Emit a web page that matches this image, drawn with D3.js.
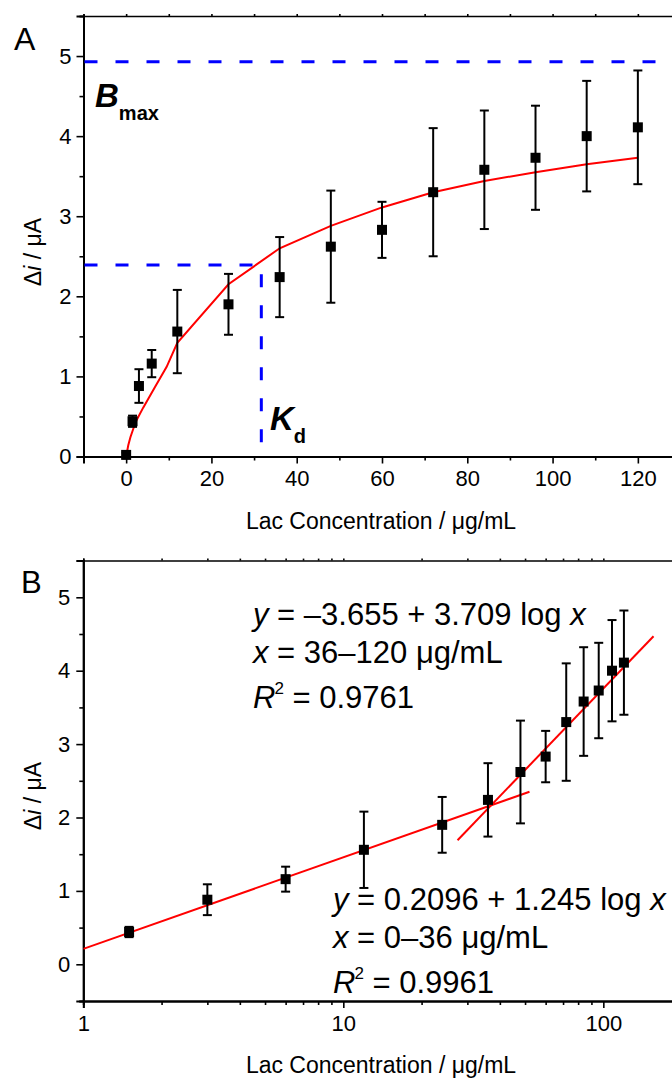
<!DOCTYPE html>
<html>
<head>
<meta charset="utf-8">
<script src="https://cdn.jsdelivr.net/npm/d3@7"></script>
<style>
  html, body { margin: 0; padding: 0; background: #fff; overflow: hidden; }
  svg text { font-family: "Liberation Sans", Arial, sans-serif; fill: #000; }
</style>
</head>
<body>
<script>
// ---------------- data ----------------
const conc = [0, 1.5, 3, 6, 12, 24, 36, 48, 60, 72, 84, 96, 108, 120];
const deltaI = [0.02, 0.44, 0.88, 1.16, 1.56, 1.90, 2.24, 2.62, 2.83, 3.30, 3.58, 3.73, 4.00, 4.11];
const errI = [0.03, 0.07, 0.21, 0.17, 0.52, 0.38, 0.50, 0.70, 0.35, 0.80, 0.74, 0.65, 0.69, 0.71];

// binding-curve fit (panel A)
const fitX = [0, 0.5, 1, 1.7, 2.5, 4, 6.8, 9.5, 12, 24, 36, 48, 60, 72, 84, 96, 108, 120];
const fitY = [0, 0.14, 0.24, 0.35, 0.46, 0.61, 0.87, 1.12, 1.42, 2.15, 2.60, 2.88, 3.11, 3.30, 3.44, 3.55, 3.65, 3.73];

const Bmax = 4.93;
const Kd = 31.7;
const KdY = 2.39;

// panel B linear fits (end points)
const fitLowX = [1, 52];
const fitLowY = [0.21, 2.35];
const fitHighX = [27.5, 156];
const fitHighY = [1.69, 4.47];

const xTicksA = [0, 20, 40, 60, 80, 100, 120];
const yTicks = [0, 1, 2, 3, 4, 5];
const xTicksB = [1, 10, 100];

const xTitle = "Lac Concentration / \u03BCg/mL";

// ---------------- setup ----------------
const W = 672, H = 1079;
const svg = d3.select("body").append("svg").attr("width", W).attr("height", H);

const FONT = 22;
const TFONT = 23;

function styleAxis(g, width) {
  g.select(".domain").attr("stroke", "#000").attr("stroke-width", width || 2);
  g.selectAll(".tick line").attr("stroke", "#000").attr("stroke-width", 1.6);
  g.selectAll(".tick text").style("font-size", FONT + "px").attr("fill", "#000");
}

// =============== PANEL A ===============
const A = { left: 83.5, right: 680.5, top: 16, bottom: 456.5 };
const xA = d3.scaleLinear().domain([-10, 130]).range([A.left, A.right]);
const yA = d3.scaleLinear().domain([0, 5.5]).range([A.bottom, A.top]);

const gA = svg.append("g");
svg.append("clipPath").attr("id", "clipA").append("rect")
  .attr("x", A.left).attr("y", A.top).attr("width", A.right - A.left).attr("height", A.bottom - A.top);

const topA = gA.append("g").attr("transform", `translate(0,${A.top})`)
  .call(d3.axisTop(xA).tickValues(d3.range(-10, 131, 10)).tickSize(2).tickFormat(""));
styleAxis(topA, 1.5);
const minorBA = gA.append("g").attr("transform", `translate(0,${A.bottom})`)
  .call(d3.axisBottom(xA).tickValues(d3.range(10, 131, 20)).tickSize(4).tickFormat(""));
styleAxis(minorBA);
const botA = gA.append("g").attr("transform", `translate(0,${A.bottom})`)
  .call(d3.axisBottom(xA).tickValues(xTicksA).tickSize(7).tickPadding(7).tickFormat(d3.format("d")));
styleAxis(botA);
botA.selectAll(".tick text").attr("dy", "0.71em");
const minorLA = gA.append("g").attr("transform", `translate(${A.left},0)`)
  .call(d3.axisLeft(yA).tickValues([0.5, 1.5, 2.5, 3.5, 4.5]).tickSize(4).tickFormat(""));
styleAxis(minorLA);
const leftA = gA.append("g").attr("transform", `translate(${A.left},0)`)
  .call(d3.axisLeft(yA).tickValues(yTicks).tickSize(7).tickPadding(5).tickFormat(d3.format("d")));
styleAxis(leftA);
gA.append("line").attr("x1", A.right).attr("x2", A.right).attr("y1", A.top).attr("y2", A.bottom)
  .attr("stroke", "#000").attr("stroke-width", 2);

const plotA = gA.append("g").attr("clip-path", "url(#clipA)");

plotA.append("line")
  .attr("x1", xA(-10)).attr("x2", xA(130)).attr("y1", yA(Bmax)).attr("y2", yA(Bmax))
  .attr("stroke", "#0000ff").attr("stroke-width", 3).attr("stroke-dasharray", "13,18").attr("stroke-dashoffset", -1);
plotA.append("path")
  .attr("d", d3.line()([[xA(-10), yA(KdY)], [xA(Kd), yA(KdY)], [xA(Kd), yA(0)]]))
  .attr("fill", "none").attr("stroke", "#0000ff").attr("stroke-width", 3).attr("stroke-dasharray", "13,18").attr("stroke-dashoffset", -1);

plotA.append("path")
  .datum(fitX.map((x, i) => [x, fitY[i]]))
  .attr("d", d3.line().x(d => xA(d[0])).y(d => yA(d[1])))
  .attr("fill", "none").attr("stroke", "#ff0000").attr("stroke-width", 2);

function drawPoints(g, xs, ys, es, xScale, yScale) {
  const pts = xs.map((x, i) => ({ x, y: ys[i], e: es[i] }));
  const eb = g.append("g").attr("stroke", "#000").attr("stroke-width", 2);
  pts.forEach(p => {
    const cx = xScale(p.x);
    eb.append("line").attr("x1", cx).attr("x2", cx).attr("y1", yScale(p.y - p.e)).attr("y2", yScale(p.y + p.e));
    eb.append("line").attr("x1", cx - 4.5).attr("x2", cx + 4.5).attr("y1", yScale(p.y + p.e)).attr("y2", yScale(p.y + p.e));
    eb.append("line").attr("x1", cx - 4.5).attr("x2", cx + 4.5).attr("y1", yScale(p.y - p.e)).attr("y2", yScale(p.y - p.e));
  });
  g.append("g").selectAll("rect").data(pts).join("rect")
    .attr("x", d => xScale(d.x) - 5).attr("y", d => yScale(d.y) - 5)
    .attr("width", 10).attr("height", 10).attr("fill", "#000");
}
drawPoints(gA.append("g"), conc, deltaI, errI, xA, yA);

svg.append("text").attr("x", 14).attr("y", 50).style("font-size", "32px").text("A");
const bm = svg.append("text").attr("x", 95).attr("y", 107);
bm.append("tspan").style("font-size", "33px").style("font-weight", "bold").style("font-style", "italic").text("B");
bm.append("tspan").attr("dy", 13).style("font-size", "20px").style("font-weight", "bold").text("max");
const kd = svg.append("text").attr("x", 270).attr("y", 430);
kd.append("tspan").style("font-size", "33px").style("font-weight", "bold").style("font-style", "italic").text("K");
kd.append("tspan").attr("dy", 13).style("font-size", "20px").style("font-weight", "bold").text("d");

function yTitle(cy) {
  const t = svg.append("text").attr("transform", `translate(41,${cy}) rotate(-90)`)
    .attr("text-anchor", "middle").style("font-size", TFONT + "px");
  t.append("tspan").text("\u0394");
  t.append("tspan").style("font-style", "italic").text("i");
  t.append("tspan").text(" / \u03BCA");
}
yTitle(252);
svg.append("text").attr("x", 381).attr("y", 529).attr("text-anchor", "middle")
  .style("font-size", TFONT + "px").text(xTitle);

// =============== PANEL B ===============
const B = { left: 83.3, right: 681.6, top: 560.6, bottom: 1001 };
const xB = d3.scaleLog().domain([1, 200]).range([B.left, B.right]);
const yB = d3.scaleLinear().domain([-0.5, 5.5]).range([B.bottom, B.top]);

const gB = svg.append("g");
svg.append("clipPath").attr("id", "clipB").append("rect")
  .attr("x", B.left).attr("y", B.top).attr("width", B.right - B.left).attr("height", B.bottom - B.top);

const minorLog = [2, 3, 4, 5, 6, 7, 8, 9, 20, 30, 40, 50, 60, 70, 80, 90];
const topB = gB.append("g").attr("transform", `translate(0,${B.top})`)
  .call(d3.axisTop(xB).tickValues(xTicksB.concat(minorLog)).tickSize(2).tickFormat(""));
styleAxis(topB, 1.5);
const minorBB = gB.append("g").attr("transform", `translate(0,${B.bottom})`)
  .call(d3.axisBottom(xB).tickValues(minorLog).tickSize(4).tickFormat(""));
styleAxis(minorBB);
const botB = gB.append("g").attr("transform", `translate(0,${B.bottom})`)
  .call(d3.axisBottom(xB).tickValues(xTicksB).tickSize(7).tickPadding(7).tickFormat(d3.format("d")));
styleAxis(botB);
botB.selectAll(".tick text").attr("dy", "0.71em");
const minorLB = gB.append("g").attr("transform", `translate(${B.left},0)`)
  .call(d3.axisLeft(yB).tickValues([-0.5, 0.5, 1.5, 2.5, 3.5, 4.5]).tickSize(4).tickFormat(""));
styleAxis(minorLB);
const leftB = gB.append("g").attr("transform", `translate(${B.left},0)`)
  .call(d3.axisLeft(yB).tickValues(yTicks).tickSize(7).tickPadding(6).tickFormat(d3.format("d")));
styleAxis(leftB);
gB.append("line").attr("x1", B.right).attr("x2", B.right).attr("y1", B.top).attr("y2", B.bottom)
  .attr("stroke", "#000").attr("stroke-width", 2);

const plotB = gB.append("g").attr("clip-path", "url(#clipB)");
const lineB = d3.line().x(d => xB(d[0])).y(d => yB(d[1]));
plotB.append("path").datum(fitLowX.map((x, i) => [x, fitLowY[i]])).attr("d", lineB)
  .attr("fill", "none").attr("stroke", "#ff0000").attr("stroke-width", 2);
plotB.append("path").datum(fitHighX.map((x, i) => [x, fitHighY[i]])).attr("d", lineB)
  .attr("fill", "none").attr("stroke", "#ff0000").attr("stroke-width", 2);

drawPoints(gB.append("g"), conc.slice(1), deltaI.slice(1), errI.slice(1), xB, yB);

svg.append("text").attr("x", 21).attr("y", 593).style("font-size", "31px").text("B");

function eqBlock(x, y0, eq, range, r2) {
  const ANN = 31;
  const t1 = svg.append("text").attr("x", x).attr("y", y0).style("font-size", ANN + "px");
  t1.append("tspan").style("font-style", "italic").text("y");
  t1.append("tspan").text(" = " + eq + " log ");
  t1.append("tspan").style("font-style", "italic").text("x");
  const t2 = svg.append("text").attr("x", x).attr("y", y0 + 38).style("font-size", ANN + "px");
  t2.append("tspan").style("font-style", "italic").text("x");
  t2.append("tspan").text(" = " + range);
  const t3 = svg.append("text").attr("x", x).attr("y", y0 + 83).style("font-size", ANN + "px");
  t3.append("tspan").style("font-style", "italic").text("R");
  t3.append("tspan").attr("dx", -1).attr("dy", -14).style("font-size", "17px").text("2");
  t3.append("tspan").attr("dy", 14).text(" = " + r2);
}
eqBlock(253, 625, "\u20133.655 + 3.709", "36\u2013120 \u03BCg/mL", "0.9761");
eqBlock(333, 910, "0.2096 + 1.245", "0\u201336 \u03BCg/mL", "0.9961");

yTitle(796);
svg.append("text").attr("x", 381).attr("y", 1073).attr("text-anchor", "middle")
  .style("font-size", TFONT + "px").text(xTitle);
</script>
</body>
</html>
